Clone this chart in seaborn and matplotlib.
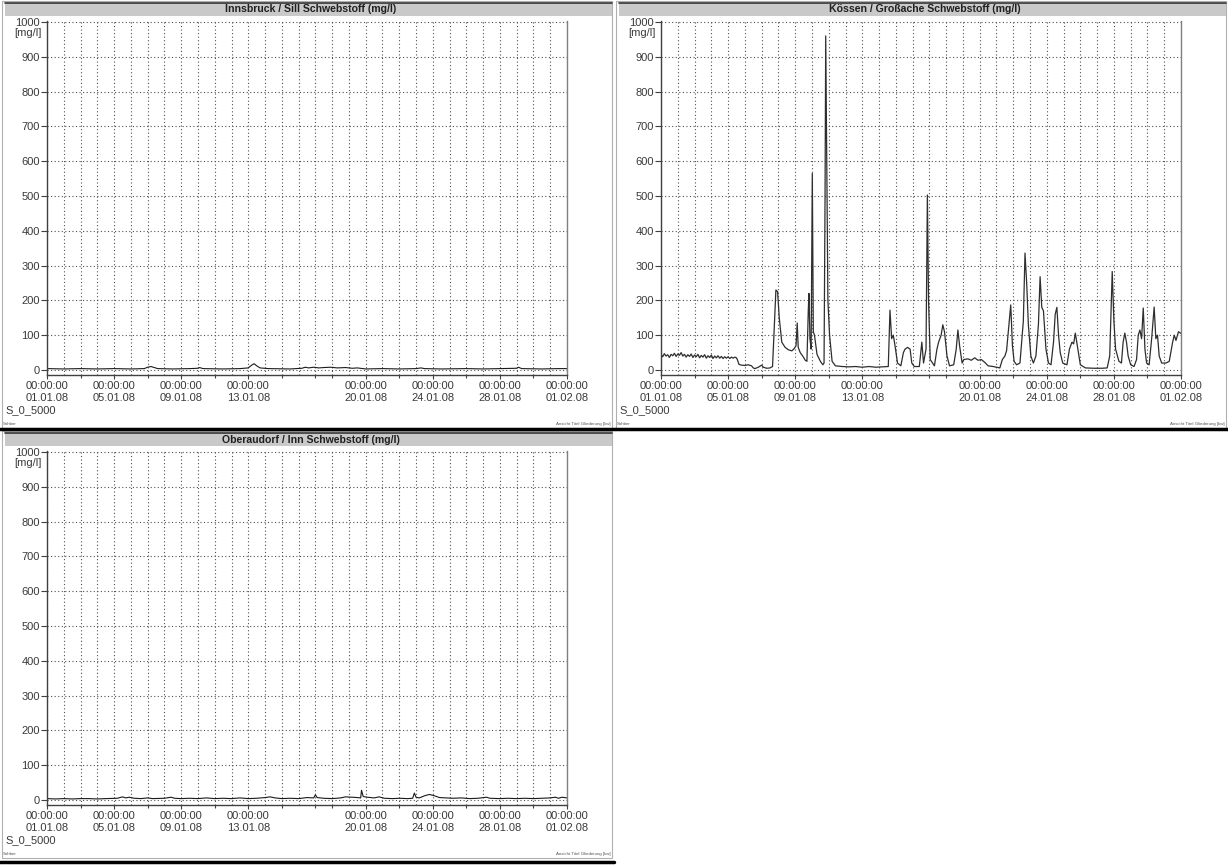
import matplotlib
matplotlib.use("Agg")
import matplotlib.pyplot as plt
import seaborn as sns
from matplotlib.patches import Rectangle
from matplotlib.lines import Line2D

# ---------------------------------------------------------------- data
station_titles = [
    "Innsbruck / Sill Schwebstoff (mg/l)",
    "Kössen / Großache Schwebstoff (mg/l)",
    "Oberaudorf / Inn Schwebstoff (mg/l)",
]

# time in days since 01.01.08 00:00, suspended sediment in mg/l
innsbruck_days = [0, 1, 2, 3, 4, 5, 5.8, 6.0, 6.2, 6.4, 6.6, 7.5, 8.5, 9.0, 9.1, 9.3,
                  10.5, 11.5, 12.0, 12.2, 12.35, 12.5, 12.7, 13.2, 14.5, 15.2, 15.4,
                  15.6, 15.9, 16.2, 16.5, 16.9, 17.3, 17.8, 18.2, 18.5, 19.0, 20.0,
                  21.0, 22.0, 22.3, 22.5, 23.5, 25.0, 26.0, 27.0, 28.0, 28.1, 28.3,
                  29.5, 30.5, 31.0]
innsbruck_mgl = [4, 3, 4, 3, 4, 3, 4, 8, 10, 7, 4, 3, 4, 5, 7, 4,
                 3, 4, 6, 14, 18, 12, 6, 4, 3, 5, 8,
                 6, 8, 6, 7, 8, 6, 7, 5, 6, 3, 4,
                 3, 4, 6, 4, 3, 4, 3, 4, 5, 8, 4,
                 3, 4, 4]

koessen_days = [0.0, 0.1, 0.2, 0.3, 0.4, 0.5, 0.6, 0.7, 0.8, 0.9, 1.0, 1.1, 1.2, 1.3,
                1.4, 1.5, 1.6, 1.7, 1.8, 1.9, 2.0, 2.1, 2.2, 2.3, 2.4, 2.5, 2.6, 2.7,
                2.8, 2.9, 3.0, 3.1, 3.2, 3.3, 3.4, 3.5, 3.6, 3.7, 3.8, 3.9, 4.0, 4.1,
                4.2, 4.3, 4.4, 4.5, 4.55, 4.65,
                4.8, 5.0, 5.2, 5.4, 5.5, 5.6, 5.8, 6.0, 6.1, 6.3, 6.5, 6.65, 6.75,
                6.85, 6.95, 7.05, 7.2, 7.4, 7.6, 7.8, 7.95, 8.05, 8.12, 8.18, 8.3,
                8.45, 8.6, 8.7, 8.78, 8.82, 8.88, 8.95, 9.02, 9.08, 9.15, 9.3, 9.5,
                9.65, 9.72, 9.78, 9.82, 9.88, 9.95, 10.05, 10.2, 10.4, 10.8, 11.2,
                11.6, 12.0, 12.4, 12.8, 13.2, 13.55, 13.65, 13.75, 13.85, 13.95,
                14.1, 14.3, 14.45, 14.55, 14.7, 14.85, 14.95, 15.1, 15.4, 15.55,
                15.65, 15.8, 15.88, 15.95, 16.05, 16.3, 16.45, 16.55, 16.7, 16.8,
                16.9, 17.05, 17.2, 17.45, 17.6, 17.7, 17.8, 17.95, 18.05, 18.3,
                18.5, 18.7, 18.9, 19.1, 19.3, 19.5, 19.8, 20.0, 20.2, 20.35, 20.5,
                20.6, 20.85, 20.95, 21.05, 21.2, 21.4, 21.6, 21.7, 21.8, 21.9,
                22.05, 22.2, 22.35, 22.5, 22.6, 22.7, 22.8, 22.95, 23.1, 23.25,
                23.4, 23.5, 23.6, 23.7, 23.8, 23.95, 24.2, 24.35, 24.5, 24.6, 24.7,
                24.85, 25.0, 25.3, 25.8, 26.3, 26.6, 26.75, 26.9, 27.0, 27.1, 27.3,
                27.45, 27.55, 27.65, 27.75, 27.85, 28.0, 28.2, 28.35, 28.45, 28.55,
                28.65, 28.75, 28.85, 28.95, 29.1, 29.25, 29.4, 29.5, 29.6, 29.7,
                29.85, 30.1, 30.3, 30.5, 30.6, 30.7, 30.85, 31.0]
koessen_mgl = [45, 38, 47, 40, 44, 36, 45, 41, 48, 39, 46, 42, 50, 40,
               45, 37, 44, 39, 46, 36, 43, 38, 45, 35, 42, 37, 44, 34,
               41, 36, 43, 33, 40, 35, 41, 34, 39, 33, 38, 34, 38, 33,
               37, 34, 37, 35, 30, 16,
               14, 13, 15, 12, 6, 4, 8, 14, 8, 5, 6, 10, 120,
               230, 225, 150, 80, 65, 58, 55, 62, 70, 135, 65, 50,
               40, 28, 25, 170, 220, 90, 60, 565, 110, 100, 45, 25,
               15, 20, 500, 960, 600, 200, 100, 25, 12, 10, 9,
               10, 8, 10, 8, 9, 10, 172, 90, 100, 70,
               20, 12, 50, 60, 65, 60, 20, 10, 10, 80,
               20, 60, 503, 200, 30, 12, 60, 80, 100, 130,
               110, 40, 12, 15, 60, 115, 70, 20, 30, 32,
               28, 35, 28, 30, 22, 12, 10, 8, 6, 30, 40,
               55, 187, 70, 25, 15, 20, 140, 336, 250, 130,
               40, 20, 40, 130, 268, 180, 170, 60, 20, 15,
               80, 160, 180, 100, 50, 20, 15, 60, 80, 75, 106,
               60, 15, 6, 5, 5, 6, 40, 283, 140, 60, 25,
               20, 80, 106, 80, 40, 15, 10, 30, 100, 115,
               90, 178, 60, 20, 15, 90, 181, 90, 100, 40,
               20, 20, 25, 80, 100, 85, 110, 105]

oberaudorf_days = [0, 0.5, 1, 1.5, 2, 2.5, 3, 3.5, 4.2, 4.5, 4.7, 4.9, 5.2, 5.6, 6,
                   6.3, 7.0, 7.4, 7.6, 8, 8.5, 9, 9.5, 10, 10.5, 11, 11.5, 12, 12.5,
                   13.0, 13.3, 13.6, 14, 14.5, 15, 15.5, 15.9, 16.0, 16.1, 16.5, 17,
                   17.5, 17.8, 18.2, 18.5, 18.7, 18.75, 18.85, 19.1, 19.5, 19.8, 20.1,
                   20.6, 21, 21.5, 21.8, 21.9, 22.0, 22.2, 22.5, 22.8, 23.1, 23.4,
                   23.8, 24.2, 24.7, 25.2, 25.7, 26.2, 26.4, 27, 27.5, 28, 28.5, 29,
                   29.5, 30, 30.3, 30.5, 30.7, 31]
oberaudorf_mgl = [4, 3, 4, 3, 4, 4, 3, 4, 5, 9, 6, 8, 5, 4, 6,
                  4, 5, 8, 5, 4, 5, 4, 6, 4, 5, 4, 6, 4, 5,
                  7, 9, 6, 4, 5, 4, 7, 6, 15, 7, 5, 4,
                  6, 9, 8, 7, 6, 28, 10, 8, 6, 9, 5,
                  4, 5, 4, 5, 20, 8, 6, 12, 16, 12, 7,
                  6, 5, 6, 4, 5, 8, 5, 4, 5, 4, 5, 4,
                  5, 6, 8, 5, 8, 6]

tick_days = [0, 4, 8, 12, 19, 23, 27, 31]
tick_times = ["00:00:00"] * 8
tick_dates = ["01.01.08", "05.01.08", "09.01.08", "13.01.08",
              "20.01.08", "24.01.08", "28.01.08", "01.02.08"]
y_ticks = [0, 100, 200, 300, 400, 500, 600, 700, 800, 900, 1000]
series_name = "S_0_5000"

# ---------------------------------------------------------------- style
sns.set_theme(style="white")
plt.rcParams["font.family"] = ["Liberation Sans", "DejaVu Sans"]

W, H = 1228, 865
fig = plt.figure(figsize=(W / 100, H / 100), dpi=100)
fig.patch.set_facecolor("white")

TXT = "#3a3a3a"
GRID = "#505050"


def frac_box(x0, y0, x1, y1):
    """pixel rectangle (top-left origin) -> figure fraction [l, b, w, h]"""
    return [x0 / W, 1 - y1 / H, (x1 - x0) / W, (y1 - y0) / H]


def fx(x):
    return x / W


def fy(y):
    return 1 - y / H


def draw_panel(ox, oy, title, days, values, color, lw):
    # panel frame and title bar
    fig.add_artist(Rectangle((fx(ox + 2), fy(oy + 428)), (610) / W, (427) / H,
                             transform=fig.transFigure, fill=False,
                             edgecolor="#b0b0b0", linewidth=0.8))
    fig.add_artist(Rectangle((fx(ox + 5), fy(oy + 16)), (607) / W, (13) / H,
                             transform=fig.transFigure, facecolor="#c9c9c9",
                             edgecolor="none"))
    fig.add_artist(Line2D([fx(ox + 5), fx(ox + 612)], [fy(oy + 3), fy(oy + 3)],
                          transform=fig.transFigure, color="#333333", linewidth=1.2))
    fig.text(fx(ox + 311), fy(oy + 9.5), title, ha="center", va="center",
             fontsize=7.6, fontweight="bold", color="#202020")

    # plot area: 1000 at oy+22, 0 at oy+370
    ylo, yhi = -13, 1003
    scale = 348 / 1000
    top = oy + 22 - (yhi - 1000) * scale
    bot = oy + 370 - ylo * scale
    ax = fig.add_axes(frac_box(ox + 47, top, ox + 567, bot))
    ax.set_facecolor("white")

    sns.lineplot(x=days, y=values, ax=ax, color=color, linewidth=lw,
                 estimator=None, sort=False)

    ax.set_xlim(0, 31)
    ax.set_ylim(ylo, yhi)

    # dotted grid: every day, every 100 mg/l
    for d in range(0, 32):
        ax.axvline(d, color=GRID, linewidth=0.8, linestyle=(0, (1, 2.2)), zorder=0)
    for v in y_ticks:
        ax.axhline(v, color=GRID, linewidth=0.8, linestyle=(0, (1, 2.2)), zorder=0)

    ax.set_yticks(y_ticks)
    ax.set_yticklabels([str(v) for v in y_ticks])
    ax.set_xticks(tick_days)
    ax.set_xticklabels([f"{t}\n{d}" for t, d in zip(tick_times, tick_dates)],
                       linespacing=1.3)
    ax.set_xticks([2, 6, 10, 14, 16, 17, 21, 25, 29], minor=True)
    ax.tick_params(axis="y", direction="out", length=4, width=0.8, color="#404040",
                   labelsize=8, labelcolor=TXT, pad=1, left=True)
    ax.tick_params(axis="x", which="major", direction="out", length=3, width=0.8,
                   color="#404040", labelsize=8, labelcolor=TXT, pad=1.5, bottom=True)
    ax.tick_params(axis="x", which="minor", direction="out", length=2, width=0.8,
                   color="#404040", bottom=True)
    ax.set_xlabel("")
    ax.set_ylabel("")

    for side in ("top",):
        ax.spines[side].set_visible(False)
    ax.spines["left"].set_color("#404040")
    ax.spines["left"].set_linewidth(1.0)
    ax.spines["bottom"].set_color("#404040")
    ax.spines["bottom"].set_linewidth(1.0)
    ax.spines["right"].set_color("#808080")
    ax.spines["right"].set_linewidth(1.0)

    # unit label under the top tick
    fig.text(fx(ox + 42), fy(oy + 33), "[mg/l]", ha="right", va="center",
             fontsize=8, color=TXT)
    # series id and footer
    fig.text(fx(ox + 5), fy(oy + 410), series_name, ha="left", va="center",
             fontsize=8, color=TXT)
    fig.text(fx(ox + 3), fy(oy + 424), "Sohber", ha="left", va="center",
             fontsize=3.2, color="#555555")
    fig.text(fx(ox + 611), fy(oy + 424), "Ansicht Titel Gliederung [kw]",
             ha="right", va="center", fontsize=3.2, color="#555555")
    return ax


draw_panel(0, 0, station_titles[0], innsbruck_days, innsbruck_mgl, "#1a1a1a", 0.8)
draw_panel(614, 0, station_titles[1], koessen_days, koessen_mgl, "#2e2e2e", 0.9)
draw_panel(0, 430, station_titles[2], oberaudorf_days, oberaudorf_mgl, "#1a1a1a", 0.8)

# heavy separators under each row
fig.add_artist(Line2D([0, 1], [fy(429), fy(429)], transform=fig.transFigure,
                      color="black", linewidth=2.5))
fig.add_artist(Line2D([0, fx(614)], [fy(862), fy(862)], transform=fig.transFigure,
                      color="black", linewidth=2.5))

fig.savefig("out.png", dpi=100, facecolor="white")
